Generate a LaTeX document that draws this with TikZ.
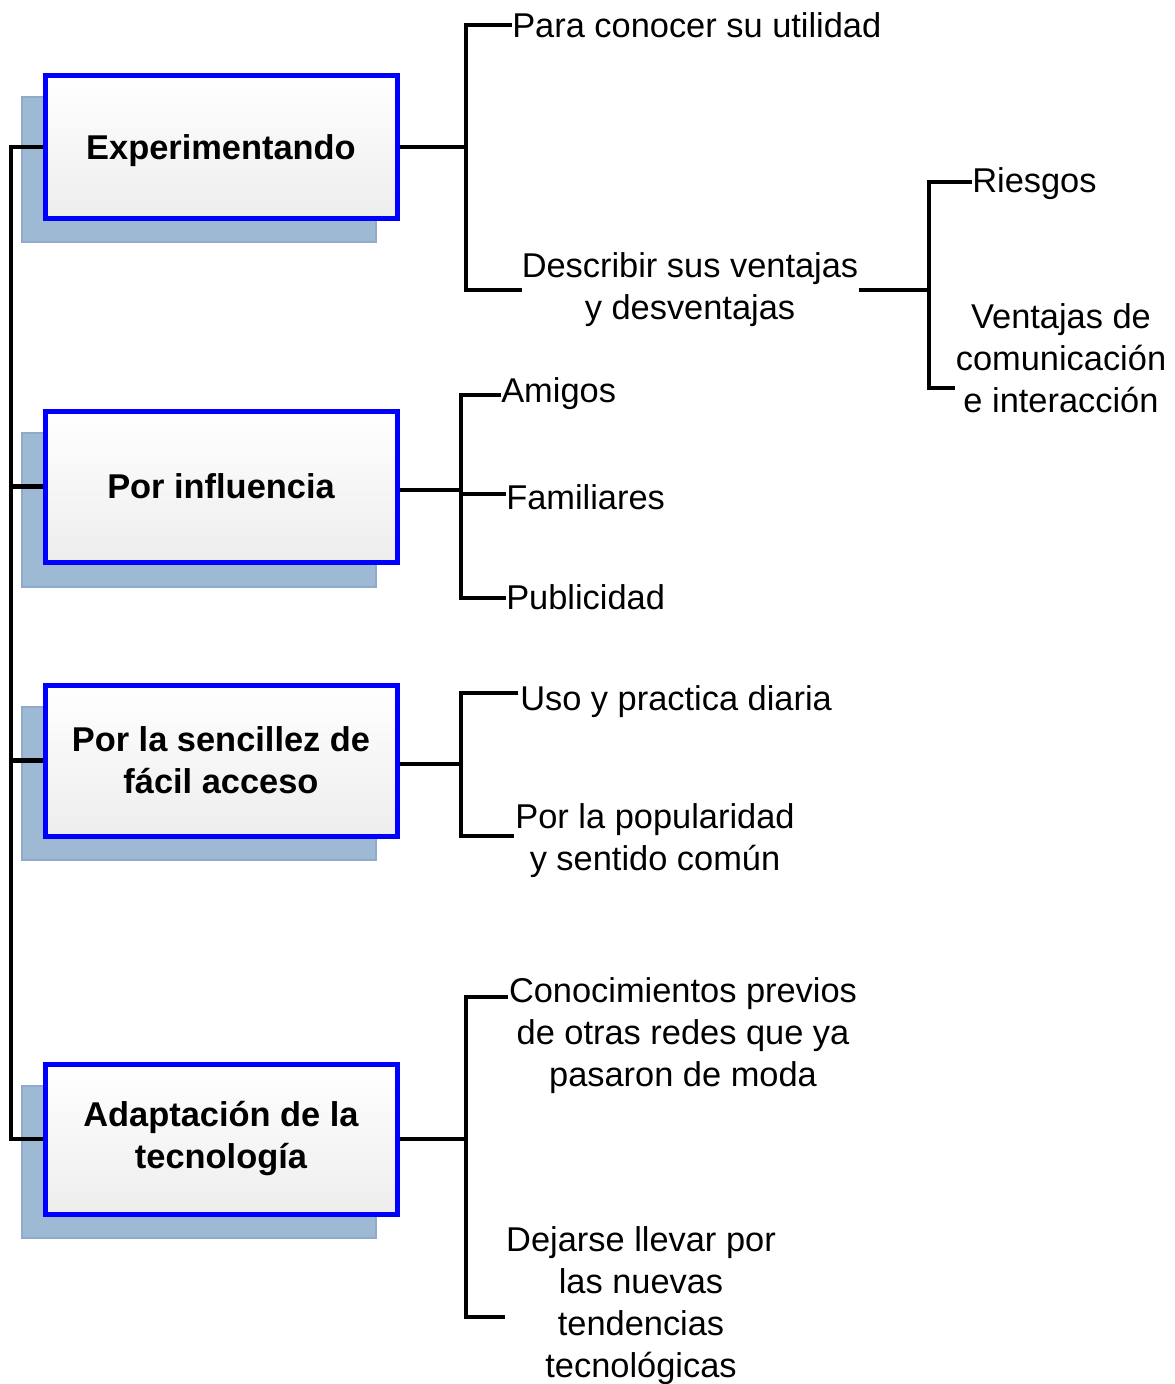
\documentclass[tikz,border=0pt]{standalone}
\usepackage{fontspec}
\setmainfont{Liberation Sans}
\definecolor{shadowblue}{HTML}{9EB9D3}
\definecolor{shadowedge}{HTML}{8FAACB}
\definecolor{boxblue}{HTML}{0000FF}
\begin{document}
\begin{tikzpicture}[x=0.75pt,y=-0.75pt,
  every node/.style={font=\fontsize{25.8}{31.5}\selectfont, inner sep=0pt},
  box/.style={draw=boxblue, line width=3.75pt, top color=white, bottom color=black!7,
    minimum width=264pt, align=center, font=\bfseries\fontsize{25.8}{31.5}\selectfont},
  shadowbox/.style={fill=shadowblue, draw=shadowedge, line width=0.8pt},
  conn/.style={draw=black, line width=3.4pt},
  leaf/.style={align=center}]
\useasboundingbox (0,0) rectangle (1174,1384);

% shadows
\draw[shadowbox] (22,97) rectangle (376,242);
\draw[shadowbox] (22,433) rectangle (376,587);
\draw[shadowbox] (22,707) rectangle (376,860);
\draw[shadowbox] (22,1086) rectangle (376,1238);

% main boxes
\node[box, minimum height=106.5pt, text depth=0pt] (b1) at (221,147) {Experimentando};
\node[box, minimum height=113.25pt] (b2) at (221,486.5) {Por influencia};
\node[box, minimum height=113.25pt] (b3) at (221,760.5) {Por la sencillez de\\fácil acceso};
\node[box, minimum height=112.5pt] (b4) at (221,1139) {Adaptación de la\\tecnología};

% left trunk
\coordinate (k1) at (11,147);
\coordinate (k4) at (11,1139);
\draw[conn] (b1.west) -- (k1) -- (k4) -- (b4.west);
\draw[conn] (b2.west) -- (b2.west -| k1);
\draw[conn] (b3.west) -- (b3.west -| k1);

% group 1
\node[anchor=west] (t11) at (512,25) {Para conocer su utilidad};
\node[leaf] (t12) at (690,290) {Describir sus ventajas\\y desventajas};
\coordinate (j1) at (466,147);
\draw[conn] (b1.east) -- (j1);
\draw[conn] (t11.west) -| (j1) |- (t12.west);

\node[anchor=west] (t51) at (972,184) {Riesgos};
\node[leaf] (t52) at (1061,358) {Ventajas de\\comunicación\\e interacción};
\coordinate (j5) at (929,290);
\coordinate (e52) at (955,388);
\draw[conn] (t12.east) -- (j5);
\draw[conn] (t51.west |- 0,182) -| (j5) |- (e52);

% group 2
\node[anchor=west] (t21) at (501,394) {Amigos};
\node[anchor=west] (t22) at (506,497) {Familiares};
\node[anchor=west] (t23) at (506,597) {Publicidad};
\coordinate (j2) at (461,490);
\coordinate (e21) at (501,395);
\coordinate (e22) at (506,494);
\coordinate (e23) at (506,598);
\draw[conn] (b2.east |- j2) -- (j2);
\draw[conn] (e21) -| (j2) |- (e23);
\draw[conn] (e22) -- (e22 -| j2);

% group 3
\node[anchor=west] (t31) at (520,702) {Uso y practica diaria};
\node[leaf] (t32) at (655,841) {Por la popularidad\\y sentido común};
\coordinate (j3) at (461,764);
\coordinate (e31) at (518,693);
\coordinate (e32) at (514,836);
\draw[conn] (b3.east |- j3) -- (j3);
\draw[conn] (e31) -| (j3) |- (e32);

% group 4
\node[leaf] (t41) at (683,1036) {Conocimientos previos\\de otras redes que ya\\pasaron de moda};
\node[leaf] (t42) at (641,1306) {Dejarse llevar por\\las nuevas\\tendencias\\tecnológicas};
\coordinate (j4) at (466,1139);
\coordinate (e41) at (508,997);
\coordinate (e42) at (505,1317);
\draw[conn] (b4.east) -- (j4);
\draw[conn] (e41) -| (j4) |- (e42);
\end{tikzpicture}
\end{document}
